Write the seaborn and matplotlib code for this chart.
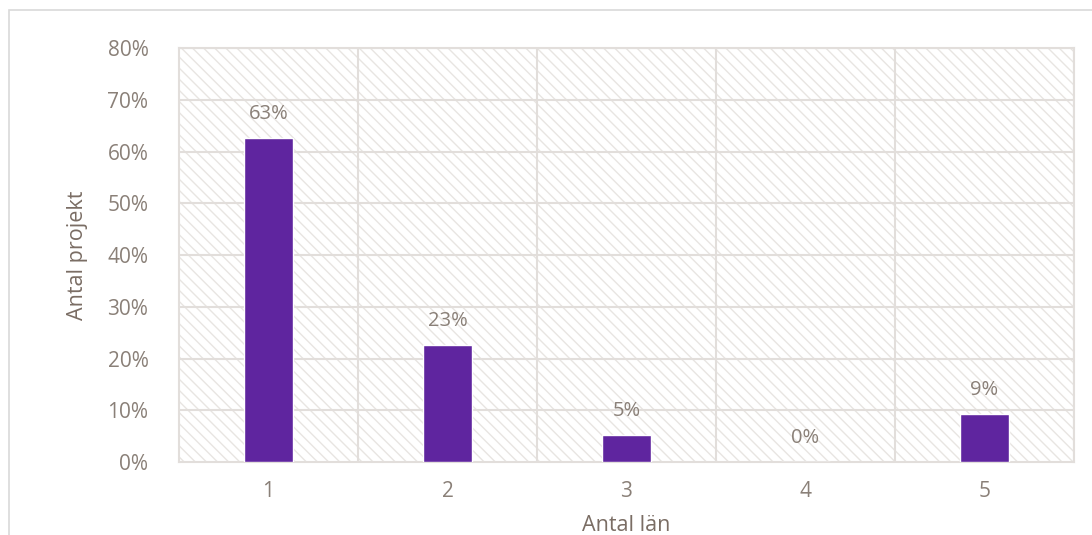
import numpy as np
import pandas as pd
import matplotlib.pyplot as plt
import seaborn as sns
from matplotlib.patches import Rectangle

# Data
antal_lan = ["1", "2", "3", "4", "5"]
andel = [0.626, 0.226, 0.052, 0.0, 0.093]

df = pd.DataFrame({"Antal län": antal_lan, "Andel": andel})

textfarg = "#8a8078"
titelfarg = "#7a6d64"
gridfarg = "#e2dedb"

sns.set_style("white")
plt.rcParams["font.family"] = ["Open Sans", "DejaVu Sans"]
plt.rcParams["hatch.linewidth"] = 1.0

fig = plt.figure(figsize=(10.92, 5.35), dpi=100)
ax = fig.add_axes([0.1639, 0.1364, 0.8196, 0.7738])

# Ram runt diagrammet
fig.patches.append(Rectangle((9 / 1092, -0.1), 1.2, 1 - 10 / 535 + 0.1,
                             transform=fig.transFigure, fill=False,
                             edgecolor="#d9d9d9", linewidth=1.2))

sns.barplot(data=df, x="Antal län", y="Andel", color="#5f259f",
            width=0.275, saturation=1, ax=ax, zorder=3)

ax.set_ylim(0, 0.8)
ax.set_xlim(-0.5, 4.5)

# Bakgrund med diagonal skraffering
ax.add_patch(Rectangle((-0.5, 0), 5, 0.8, facecolor="white",
                       edgecolor="#e8e5e2", hatch="\\\\\\", linewidth=0, zorder=0))

ax.set_yticks(np.arange(0, 0.81, 0.1))
ax.set_yticklabels([f"{int(round(v * 100))}%" for v in np.arange(0, 0.81, 0.1)])
ax.set_xticks(range(5))
ax.set_xticklabels(antal_lan)

for y in np.arange(0.1, 0.81, 0.1):
    ax.axhline(y, color=gridfarg, linewidth=1.5, zorder=1)
for x in np.arange(0.5, 4.6, 1):
    ax.axvline(x, color=gridfarg, linewidth=1.5, zorder=1)

for s in ax.spines.values():
    s.set_color(gridfarg)
    s.set_linewidth(1.5)

ax.tick_params(axis="both", length=0, labelsize=15, colors=textfarg)
ax.tick_params(axis="y", pad=22)
ax.tick_params(axis="x", pad=14)

ax.bar_label(ax.containers[0], labels=[f"{round(v * 100):.0f}%" for v in andel],
             padding=10, fontsize=14.5, color=textfarg)

ax.set_xlabel("Antal län", fontsize=15.5, color=titelfarg, labelpad=9)
ax.set_ylabel("Antal projekt", fontsize=15.5, color=titelfarg, labelpad=14)

plt.savefig("out.png", dpi=100)
